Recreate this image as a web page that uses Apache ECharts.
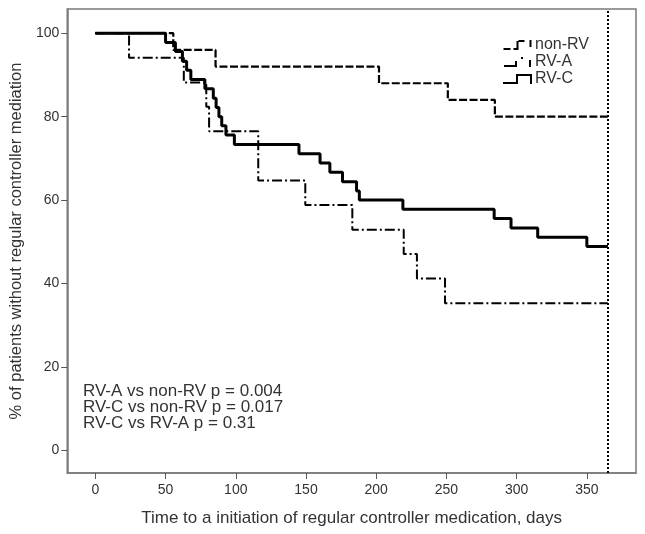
<!DOCTYPE html>
<html>
<head>
<meta charset="utf-8">
<script src="https://cdn.jsdelivr.net/npm/echarts@6/dist/echarts.min.js"></script>
<style>html,body{margin:0;padding:0;background:#fff;}#c{width:645px;height:534px;}</style>
</head>
<body>
<div id="c"></div>
<script>
// Kaplan-Meier step data (days, % without regular controller medication)
const nonRvDays = [0, 55.5, 85.6, 202, 251, 284.5, 365];
const nonRvPct  = [100, 96, 92, 88, 84, 80, 80];

const rvaDays = [0, 24, 63, 79, 81, 116, 149.5, 183, 219.6, 229, 249, 365];
const rvaPct  = [100, 94.1, 88.2, 82.4, 76.5, 64.7, 58.8, 52.9, 47.1, 41.2, 35.3, 35.3];

const rvcDays = [0, 50, 57, 62, 65, 68, 78, 84, 86, 88, 90, 93, 99, 145, 160, 167, 176, 186, 188, 219, 284, 296, 315, 350, 365];
const rvcPct  = [100, 97.8, 95.6, 93.3, 91.1, 88.9, 86.7, 84.4, 82.2, 80.0, 77.8, 75.6, 73.3, 71.1, 68.9, 66.7, 64.4, 62.2, 60.0, 57.8, 55.6, 53.3, 51.1, 48.9, 48.9];

const xTicks = [0, 50, 100, 150, 200, 250, 300, 350];
const yTicks = [0, 20, 40, 60, 80, 100];
const cutoffDay = 365;
const seriesNames = ['non-RV', 'RV-A', 'RV-C'];
const annotationLines = ['RV-A vs non-RV p = 0.004', 'RV-C vs non-RV p = 0.017', 'RV-C vs RV-A p = 0.31'];
const xTitle = 'Time to a initiation of regular controller medication, days';
const yTitle = '% of patients without regular controller mediation';

const zip = (a, b) => a.map((v, i) => [v, b[i]]);
const FONT = 'Liberation Sans, Arial, sans-serif';
const TXT = '#333';

const iconNon = 'path://M0,8h7v2h-7z M10,8h5v2h-5z M13,1h2v7h-2z M15,0h6v2h-6z M26,0h2v7h-2z';
const iconA = 'path://M0,8h13v2h-13z M11,4h2v4h-2z M17,0h2v2h-2z M25,3h2v7h-2z';
const iconC = 'path://M0,8L13,8L13,0L29,0L29,10L27,10L27,2L15,2L15,10L0,10Z';

const chart = echarts.init(document.getElementById('c'), null, {renderer: 'canvas'});
chart.setOption({
  animation: false,
  backgroundColor: '#fff',
  textStyle: {fontFamily: FONT},
  title: {
    text: annotationLines.join('\n'),
    left: 78, top: 378,
    textStyle: {fontSize: 17, lineHeight: 16, fontWeight: 'normal', color: TXT, fontFamily: FONT}
  },
  legend: {
    orient: 'vertical',
    left: 498, top: 32,
    itemWidth: 29, itemHeight: 10,
    itemGap: 1,
    textStyle: {fontSize: 16, lineHeight: 16, color: TXT, fontFamily: FONT, padding: [0,0,0,-2]},
    itemStyle: {color: '#000', borderWidth: 0},
    lineStyle: {width: 0},
    data: [
      {name: seriesNames[0], icon: iconNon},
      {name: seriesNames[1], icon: iconA},
      {name: seriesNames[2], icon: iconC}
    ]
  },
  grid: {left: 66, right: 9, top: 9, bottom: 61, show: true, borderColor: '#7a7a7a', borderWidth: 1.5, containLabel: false},
  xAxis: {
    type: 'value', min: -20, max: 385,
    name: xTitle, nameLocation: 'middle', nameGap: 37,
    nameTextStyle: {fontSize: 17, color: TXT, fontFamily: FONT},
    axisLine: {show: true, onZero: false, lineStyle: {color: '#7a7a7a', width: 1.5}},
    axisTick: {show: true, length: 6, inside: false, customValues: xTicks, lineStyle: {color: '#555', width: 1}},
    axisLabel: {customValues: xTicks, fontSize: 14, color: TXT, margin: 10, fontFamily: FONT},
    splitLine: {show: false}
  },
  yAxis: {
    type: 'value', min: -5.4, max: 105.8,
    name: yTitle, nameLocation: 'middle', nameGap: 42, nameRotate: 90,
    nameTextStyle: {fontSize: 16.5, color: TXT, fontFamily: FONT},
    axisLine: {show: true, onZero: false, lineStyle: {color: '#7a7a7a', width: 1.5}},
    axisTick: {show: true, length: 6, customValues: yTicks, lineStyle: {color: '#555', width: 1}},
    axisLabel: {customValues: yTicks, fontSize: 14, color: TXT, margin: 8, fontFamily: FONT},
    splitLine: {show: false}
  },
  series: [
    {
      name: seriesNames[0], type: 'line', step: 'end', symbol: 'none', showSymbol: false,
      data: zip(nonRvDays, nonRvPct),
      itemStyle: {color: '#000'},
      lineStyle: {color: '#000', width: 2.2, type: [8, 2.5]},
      z: 3,
      markLine: {
        silent: true, symbol: 'none', label: {show: false},
        lineStyle: {color: '#000', width: 2, type: [2, 2]},
        data: [{xAxis: cutoffDay}]
      }
    },
    {
      name: seriesNames[1], type: 'line', step: 'end', symbol: 'none', showSymbol: false,
      data: zip(rvaDays, rvaPct),
      itemStyle: {color: '#000'},
      lineStyle: {color: '#000', width: 2, type: [10, 3, 2, 3]},
      z: 3
    },
    {
      name: seriesNames[2], type: 'line', step: 'end', symbol: 'none', showSymbol: false,
      data: zip(rvcDays, rvcPct),
      itemStyle: {color: '#000'},
      lineStyle: {color: '#000', width: 3},
      z: 4
    }
  ]
});
</script>
</body>
</html>
